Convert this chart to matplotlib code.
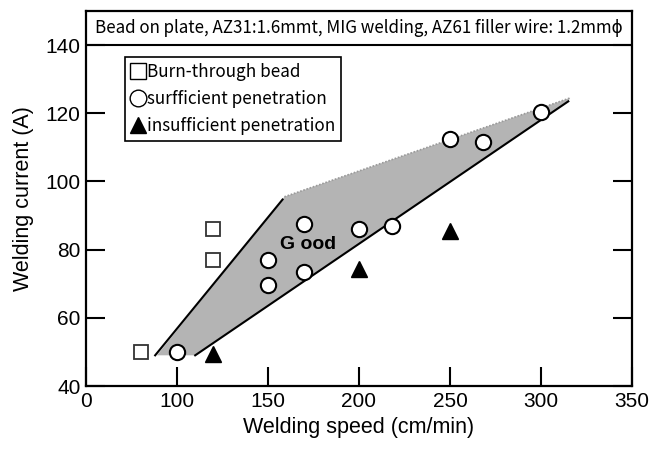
import matplotlib
matplotlib.use("Agg")
import matplotlib.pyplot as plt
from matplotlib.lines import Line2D

# ---- data ----
burn_speed = [80, 120, 120]
burn_current = [50, 86, 77]

suff_speed = [100, 150, 150, 170, 170, 200, 218, 250, 268, 300]
suff_current = [50, 77, 69.5, 87.5, 73.5, 86, 87, 112.5, 111.5, 120.5]

insuff_speed = [120, 200, 250]
insuff_current = [49.5, 74.3, 85.5]

# boundaries of the "Good" region
upper_line_x = [88, 158]
upper_line_y = [49, 94.7]
lower_line_x = [110, 315]
lower_line_y = [49, 123.5]
region_x = [89, 159, 316, 315, 110]
region_y = [49, 95.5, 124.5, 123.5, 49]

xtick_pos = [50, 100, 150, 200, 250, 300, 350]
xtick_lab = ["0", "100", "150", "200", "250", "300", "350"]
ytick_pos = [40, 60, 80, 100, 120, 140]

title = "Bead on plate, AZ31:1.6mmt, MIG welding, AZ61 filler wire: 1.2mm\u03d5"

fig = plt.figure(figsize=(6.52, 4.5), dpi=100)
ax = fig.add_axes([86/652, 1-386/450, (632-86)/652, (386-11)/450])
ax.set_xlim(50, 350)
ax.set_ylim(40, 150)

ax.fill(region_x, region_y, color="#b4b4b4", lw=0, zorder=1)
ax.plot(region_x[1:3], region_y[1:3], color="#9a9a9a", lw=1.2, ls=(0, (1, 1)), zorder=1)
ax.plot(upper_line_x, upper_line_y, color="black", lw=1.5, zorder=2)
ax.plot(lower_line_x, lower_line_y, color="black", lw=1.5, zorder=2)

ax.plot(burn_speed, burn_current, ls="none", marker="s", ms=10.5, mfc="white",
        mec="#333333", mew=1.3, zorder=3)
ax.plot(suff_speed, suff_current, ls="none", marker="o", ms=11, mfc="white",
        mec="black", mew=1.5, zorder=3)
ax.plot(insuff_speed, insuff_current, ls="none", marker="^", ms=11, mfc="black",
        mec="black", zorder=3)

ax.text(172, 81.5, "G ood", fontsize=14, fontweight="bold",
        family=["Liberation Sans"], ha="center", va="center", zorder=4)

# title box
ax.axhline(140, color="black", lw=1.5)
ax.text(200, 145, title, ha="center", va="center", fontsize=12.2,
        family=["Noto Sans CJK JP", "DejaVu Sans"])

for s in ax.spines.values():
    s.set_linewidth(1.6)

ax.set_xticks(xtick_pos)
ax.set_xticklabels(xtick_lab)
ax.set_yticks(ytick_pos)
ax.tick_params(direction="in", length=14, width=1.5, right=True,
               labelsize=15, pad=4)
for lab in ax.get_xticklabels() + ax.get_yticklabels():
    lab.set_family("Liberation Sans")

ax.set_xlabel("Welding speed (cm/min)", fontsize=15.5, family="Liberation Sans",
              labelpad=5)
ax.set_ylabel("Welding current (A)", fontsize=15.5, family="Liberation Sans",
              labelpad=8)

handles = [
    Line2D([], [], ls="none", marker="s", ms=11, mfc="white", mec="black", mew=1),
    Line2D([], [], ls="none", marker="o", ms=12, mfc="white", mec="black", mew=1),
    Line2D([], [], ls="none", marker="^", ms=12, mfc="black", mec="black"),
]
labels = ["Burn-through bead", "surfficient penetration", "insufficient penetration"]
leg = ax.legend(handles, labels, loc="upper left",
                bbox_to_anchor=((125-86)/546, (386-57.5)/375),
                borderaxespad=0, fancybox=False, edgecolor="black",
                framealpha=1, handlelength=0.8, handletextpad=0.15,
                labelspacing=0.5, borderpad=0.35,
                prop={"family": ["Noto Sans CJK JP", "DejaVu Sans"], "size": 12.3})
leg.get_frame().set_linewidth(1.2)

fig.savefig("out.png", dpi=100)
